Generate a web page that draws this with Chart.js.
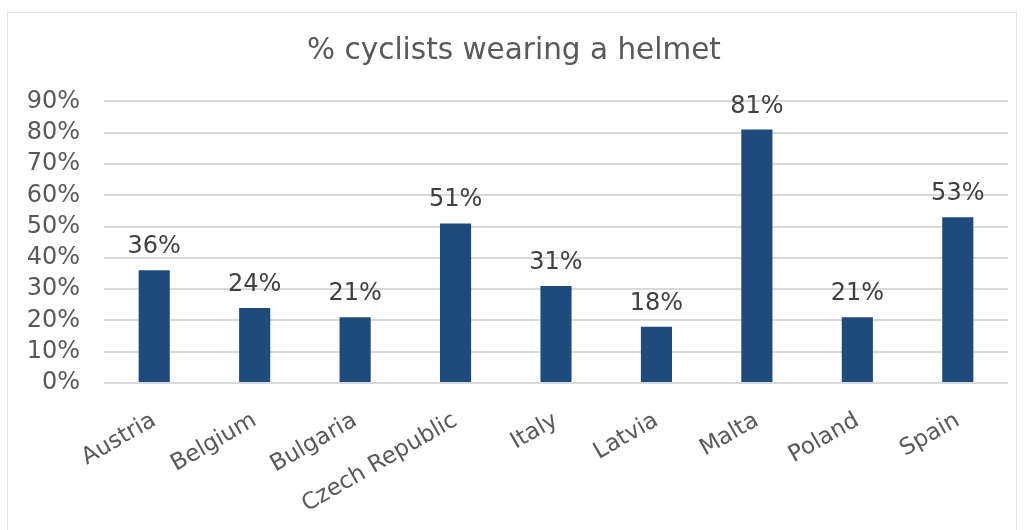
<!DOCTYPE html>
<html>
<head>
<meta charset="utf-8">
<script src="https://cdn.jsdelivr.net/npm/chart.js@4"></script>
<style>
  body { margin: 0; background: #fff; }
  #wrap { position: relative; width: 1024px; height: 530px; }
  #frame { position: absolute; left: 7px; top: 12px; width: 1010px; height: 530px;
           border: 1px solid #e3e3e3; box-sizing: border-box; pointer-events: none; }
</style>
</head>
<body>
<div id="wrap">
  <canvas id="helmetChart" width="1024" height="530"></canvas>
  <div id="frame"></div>
</div>
<script>
const countries = ["Austria", "Belgium", "Bulgaria", "Czech Republic", "Italy", "Latvia", "Malta", "Poland", "Spain"];
const helmetShare = [36, 24, 21, 51, 31, 18, 81, 21, 53];
const yMax = 90;
const yStep = 10;

const fontFamily = "'DejaVu Sans', Verdana, sans-serif";

// draws the value above each bar
const valueLabels = {
    id: "valueLabels",
    afterDatasetsDraw(chart) {
        const ctx = chart.ctx;
        const meta = chart.getDatasetMeta(0);
        ctx.save();
        ctx.font = "24px " + fontFamily;
        ctx.fillStyle = "#404040";
        ctx.textAlign = "center";
        ctx.textBaseline = "alphabetic";
        meta.data.forEach((bar, i) => {
            ctx.fillText(helmetShare[i] + "%", bar.x, bar.y - 17);
        });
        ctx.restore();
    }
};

new Chart(document.getElementById("helmetChart"), {
    type: "bar",
    data: {
        labels: countries,
        datasets: [{
            data: helmetShare,
            backgroundColor: "#1f4a7c",
            barPercentage: 0.31,
            categoryPercentage: 1
        }]
    },
    options: {
        responsive: false,
        animation: false,
        layout: { padding: { left: 20, right: 16, top: 12, bottom: 0 } },
        plugins: {
            legend: { display: false },
            tooltip: { enabled: false },
            title: {
                display: true,
                text: "% cyclists wearing a helmet",
                color: "#595959",
                font: { family: fontFamily, size: 29.5, weight: "normal" },
                padding: { top: 22, bottom: 32 }
            }
        },
        scales: {
            x: {
                grid: { display: false },
                border: { display: false },
                ticks: {
                    color: "#595959",
                    font: { family: fontFamily, size: 23 },
                    autoSkip: false,
                    minRotation: 30,
                    maxRotation: 30,
                    padding: 16
                },
                afterFit(scale) { scale.height = 147; }
            },
            y: {
                min: 0,
                max: yMax,
                grid: { color: "#d9d9d9", lineWidth: 2, drawTicks: false },
                border: { display: false },
                ticks: {
                    stepSize: yStep,
                    autoSkip: false,
                    color: "#595959",
                    font: { family: fontFamily, size: 24 },
                    padding: 24,
                    callback: v => v + "%"
                },
                afterFit(scale) { scale.width = 84; }
            }
        }
    },
    plugins: [valueLabels]
});
</script>
</body>
</html>
